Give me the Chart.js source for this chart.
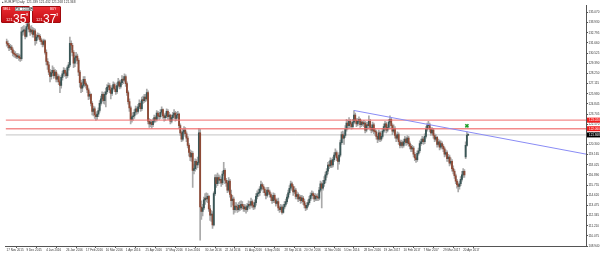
<!DOCTYPE html>
<html><head><meta charset="utf-8">
<script src="https://cdn.jsdelivr.net/npm/chart.js@4.4.1/dist/chart.umd.min.js"></script>
<style>
html,body{margin:0;padding:0;background:#fff;overflow:hidden}
#wrap{position:relative;width:600px;height:253px}
#c{position:absolute;left:0;top:0}
.t{position:absolute;white-space:nowrap;font-family:'Liberation Sans',Arial,sans-serif;transform-origin:0 0;line-height:1}
.box{position:absolute;box-sizing:border-box}
.red{background:linear-gradient(#ea2a30,#c30d13);border:1px solid #a10a0e;border-radius:1px}
</style></head>
<body><div id="wrap">
<canvas id="c" width="600" height="253"></canvas>
<div class="t" style="left:2px;top:0.5px;font-size:8px;transform:scale(0.4);color:#333">▴ EURJPY,Daily&nbsp; 121.339 121.432 121.268 121.368</div>
<div class="box red" style="left:1px;top:6px;width:29px;height:17px"></div>
<div class="box red" style="left:32px;top:6px;width:29px;height:17px"></div>
<div class="box" style="left:15px;top:6.5px;width:4px;height:4.5px;background:#ddd;border:0.5px solid #999"></div>
<div class="box" style="left:19px;top:6.5px;width:11px;height:4.5px;background:#fff;border:0.5px solid #999"></div>
<div class="box" style="left:30px;top:6.5px;width:3px;height:4.5px;background:#ddd;border:0.5px solid #999"></div>
<div class="t" style="left:16px;top:7.3px;font-size:8px;transform:scale(0.35);color:#333">▾</div>
<div class="t" style="left:31px;top:7.3px;font-size:8px;transform:scale(0.35);color:#333">▴</div>
<div class="t" style="left:22px;top:7.6px;font-size:8px;transform:scale(0.38);color:#222">10.00</div>
<div class="t" style="left:3px;top:7.5px;font-size:8px;transform:scale(0.38);color:#fff">SELL</div>
<div class="t" style="left:50px;top:7.5px;font-size:8px;transform:scale(0.38);color:#fff">BUY</div>
<div class="t" style="left:6px;top:17.8px;font-size:10px;transform:scale(0.4);color:#fff">121</div>
<div class="t" style="left:13px;top:13px;font-size:12px;color:#fff">35</div>
<div class="t" style="left:26.3px;top:13.2px;font-size:8px;transform:scale(0.5);color:#fff">8</div>
<div class="t" style="left:36px;top:17.8px;font-size:10px;transform:scale(0.4);color:#fff">121</div>
<div class="t" style="left:43px;top:13px;font-size:12px;color:#fff">37</div>
<div class="t" style="left:56.3px;top:13.2px;font-size:8px;transform:scale(0.5);color:#fff">3</div>
</div>
<script>
const tickLabels = ["17 Nov 2015","9 Dec 2015","4 Jan 2016","26 Jan 2016","17 Feb 2016","10 Mar 2016","1 Apr 2016","25 Apr 2016","17 May 2016","8 Jun 2016","30 Jun 2016","22 Jul 2016","15 Aug 2016","6 Sep 2016","28 Sep 2016","20 Oct 2016","11 Nov 2016","5 Dec 2016","28 Dec 2016","19 Jan 2017","10 Feb 2017","7 Mar 2017","29 Mar 2017","20 Apr 2017"];
const barsPerLabel = 16;
const priceTicks = [135.070,133.930,132.795,131.660,130.525,129.390,128.250,127.115,125.980,124.845,123.705,122.570,121.435,120.300,119.165,118.025,116.890,115.755,114.620,113.475,112.345,111.210,110.075,108.940];

const opens = [
131.8,131.6,131.4,131.1,131.2,130.9,130.5,130.4,130.3,130.1,130.2,130.0,129.9,132.9,133.0,133.1,
132.4,133.5,133.8,133.2,132.9,133.1,132.6,133.0,131.9,132.3,132.5,132.4,132.0,131.8,131.5,131.9,
130.6,129.6,129.2,128.4,127.9,128.3,128.6,128.0,128.4,127.6,127.9,127.3,126.9,127.8,128.2,128.6,
128.3,128.0,128.9,129.2,131.6,131.4,130.6,129.4,130.0,130.2,129.7,128.4,127.2,126.6,126.9,127.6,
127.1,126.9,126.4,125.7,125.9,124.9,124.0,124.3,123.6,123.4,123.7,124.1,124.9,125.4,125.9,125.2,
125.9,126.2,126.7,126.9,126.4,126.0,126.6,127.0,126.5,126.2,126.9,127.3,126.8,127.2,127.6,127.5,
127.9,127.1,126.1,125.1,124.4,123.1,123.4,123.5,123.9,124.3,124.0,124.5,124.9,124.3,125.3,125.2,
125.6,125.4,126.1,122.9,122.6,122.8,122.5,122.9,123.3,123.1,123.8,123.5,123.4,123.9,124.2,123.5,
123.3,123.5,124.0,123.4,123.6,122.9,123.3,123.6,123.8,123.2,123.6,123.7,122.4,121.6,120.9,121.7,
121.9,121.5,121.0,120.2,119.4,118.9,119.3,117.4,117.6,118.4,118.0,118.3,121.6,113.3,112.8,113.2,
114.1,114.3,114.2,114.5,113.1,112.4,112.5,111.3,114.8,116.6,115.9,116.6,116.3,116.4,116.0,117.0,
117.4,116.3,116.0,115.2,116.2,114.7,114.0,114.2,113.0,113.4,113.3,113.0,113.5,113.2,113.6,113.4,
113.1,113.3,113.0,113.4,113.6,113.5,113.9,113.5,113.3,113.8,114.5,114.8,114.9,115.3,115.8,115.6,
115.3,114.9,114.6,115.2,115.0,114.7,114.4,114.0,114.6,114.1,113.7,113.9,113.2,113.0,113.3,112.7,
113.3,113.6,113.9,114.4,114.9,115.4,115.9,115.6,115.0,115.2,114.5,114.7,114.2,114.4,114.0,114.3,
113.9,113.5,113.2,113.5,113.8,114.2,114.6,114.8,114.6,114.2,114.5,114.4,114.3,115.2,115.9,115.4,
115.9,116.3,116.9,117.3,118.0,117.9,118.5,118.0,118.6,119.1,119.4,118.8,118.4,119.1,120.5,121.4,
121.0,121.3,122.0,122.7,122.4,122.9,122.6,122.3,122.8,123.6,123.0,122.6,122.9,123.1,122.5,122.8,
122.6,122.7,121.9,122.5,122.4,122.9,122.2,121.9,122.5,121.8,121.7,121.2,120.9,121.6,120.9,121.2,
121.8,122.3,122.6,121.9,122.2,122.8,123.1,122.4,121.8,122.1,121.3,121.0,121.4,120.6,120.2,120.5,
120.2,120.6,120.9,120.5,121.0,120.4,120.1,119.8,119.9,119.2,118.8,118.6,119.3,119.6,120.4,120.6,
120.9,120.6,121.2,122.0,122.4,122.5,122.0,121.6,121.9,121.3,120.9,121.1,120.3,120.6,120.0,120.4,
120.1,119.8,119.2,119.4,118.7,118.9,118.2,118.4,117.6,117.3,116.8,116.2,115.8,115.6,115.9,116.4,
116.9,117.3,118.9,120.2,121.34];

const highs = [
132.1,131.9,131.6,131.5,131.4,131.1,130.8,130.7,130.5,130.5,130.4,130.3,133.4,133.5,133.6,133.3,
133.8,134.3,134.0,133.5,133.6,133.4,133.3,133.2,132.6,132.8,132.7,132.6,132.2,132.0,132.1,132.0,
130.9,129.9,129.5,128.7,128.6,129.1,128.9,128.7,128.6,128.2,128.1,127.5,128.0,128.5,128.9,128.8,
128.5,129.1,129.5,132.3,131.9,131.6,130.8,130.3,130.6,130.4,129.9,128.6,127.5,127.3,127.9,127.9,
127.3,127.0,126.6,126.2,126.0,125.1,124.6,124.5,123.9,124.0,124.4,125.2,125.7,126.2,126.1,126.2,
126.6,127.0,127.2,127.1,126.7,126.9,127.3,127.2,126.8,127.2,127.7,127.5,127.5,128.0,127.9,128.2,
128.1,127.3,126.3,125.4,124.6,123.8,123.9,124.2,124.6,124.5,124.8,125.3,125.1,125.6,125.7,125.9,
125.9,126.5,126.3,123.2,123.1,123.0,123.2,123.6,123.5,124.1,124.0,123.8,124.2,124.5,124.3,123.7,
123.8,124.3,124.2,123.9,123.7,123.6,123.9,124.2,124.0,123.9,124.0,123.8,122.6,121.8,122.0,122.3,
122.2,121.7,121.2,120.4,119.7,119.6,119.5,118.1,118.7,118.6,118.9,122.1,122.0,114.0,113.6,114.4,
114.8,114.9,114.8,114.6,113.5,112.9,112.8,115.0,116.9,116.9,117.1,116.9,116.8,116.6,117.3,118.3,
117.6,116.5,116.3,116.6,116.4,115.2,114.6,114.4,113.8,113.8,113.6,113.8,113.9,114.0,113.9,113.6,
113.6,113.5,113.7,114.0,113.9,114.3,114.1,113.8,114.1,114.8,115.1,115.3,115.6,116.2,116.0,115.8,
115.5,115.1,115.5,115.5,115.2,114.9,114.6,114.9,114.8,114.3,114.2,114.3,113.4,113.6,113.5,113.6,
113.9,114.2,114.7,115.2,115.7,116.2,116.1,115.8,115.6,115.4,115.0,114.9,114.7,114.6,114.6,114.5,
114.2,113.7,113.8,114.1,114.5,114.9,115.1,115.0,114.8,114.8,114.7,114.8,115.5,116.2,116.1,116.3,
116.7,117.2,117.6,118.3,118.4,118.8,118.7,118.9,119.4,119.8,119.6,119.0,119.4,120.8,121.7,121.8,
121.6,122.4,123.1,123.0,123.3,123.1,122.8,123.1,124.1,123.8,123.2,123.2,123.4,123.2,123.0,122.9,
123.0,122.9,122.8,122.8,123.5,123.1,122.5,122.8,122.7,122.1,121.9,121.4,121.9,121.8,121.5,122.1,
122.6,122.9,122.8,122.5,123.1,123.5,123.3,122.6,122.5,122.3,121.5,121.7,121.6,120.8,120.8,120.7,
120.9,121.2,121.1,121.3,121.2,120.6,120.3,120.2,120.1,119.4,119.0,119.6,119.9,120.7,120.9,121.2,
121.1,121.5,122.3,122.7,122.9,122.7,122.2,122.2,122.1,121.5,121.4,121.2,120.9,120.8,120.7,120.6,
120.3,120.0,119.7,119.6,119.2,119.1,118.8,118.6,117.9,117.5,117.0,116.4,116.0,116.2,116.7,117.3,
117.6,117.5,120.6,121.7,121.43];

const lows = [
131.3,131.1,130.8,130.9,130.6,130.2,130.1,130.0,129.9,129.9,129.7,129.6,129.7,132.5,132.6,132.1,
132.3,133.2,132.9,132.5,132.7,132.3,132.3,131.4,131.6,132.0,132.1,131.8,131.5,131.2,131.3,130.4,
129.2,128.7,128.1,127.3,127.6,128.0,127.7,127.8,127.3,127.3,127.0,126.1,126.6,127.5,128.0,127.9,
127.7,127.8,128.6,129.0,130.9,130.2,128.9,129.0,129.6,129.3,128.0,126.7,126.1,126.2,126.7,126.8,
126.6,126.1,125.3,125.4,124.6,123.6,123.5,123.2,123.0,123.1,123.4,123.9,124.7,125.1,124.9,124.8,
124.5,126.0,126.4,126.1,125.4,125.8,126.4,126.2,125.9,126.0,126.7,126.5,126.6,127.0,127.1,127.3,
126.8,125.8,124.8,124.0,122.6,122.8,123.0,123.2,123.6,123.7,123.8,124.3,124.0,124.1,124.9,125.0,
125.1,125.2,122.6,122.2,122.3,122.1,122.3,122.7,122.8,122.9,123.2,123.1,123.2,123.7,123.2,122.9,
123.0,123.3,123.1,123.1,122.6,122.7,123.1,123.4,122.9,123.0,123.3,122.1,121.3,120.6,120.7,121.4,
121.2,120.6,119.9,119.0,118.5,118.4,115.5,117.0,117.3,117.5,117.7,118.1,109.6,111.9,112.3,113.0,
113.6,113.9,113.8,112.8,111.8,111.7,110.9,111.2,114.6,115.5,115.7,116.0,115.9,115.6,115.8,116.8,
115.9,115.6,114.9,115.0,114.4,113.3,113.5,112.5,112.7,112.9,112.7,112.8,112.9,113.0,113.1,112.8,
112.8,112.6,112.8,113.2,113.1,113.3,113.2,113.0,113.1,113.5,114.2,114.5,114.6,115.1,115.3,114.9,
114.6,114.2,114.4,114.7,114.4,114.0,113.7,113.8,113.8,113.4,113.5,112.9,112.7,112.8,112.5,112.6,
113.1,113.4,113.7,114.2,114.7,115.2,115.2,114.6,114.8,114.2,114.2,113.9,114.0,113.7,113.8,113.6,
113.2,112.9,113.0,113.3,113.6,114.0,114.4,114.2,113.9,114.0,114.0,114.0,114.1,115.0,113.2,115.2,
115.6,116.0,116.6,117.0,117.6,117.7,117.7,117.8,118.4,118.9,118.5,117.5,118.1,118.9,120.3,120.5,
120.3,121.1,121.8,122.0,122.1,122.2,122.0,122.1,122.6,122.7,122.3,122.4,122.7,122.2,122.3,122.4,
122.3,121.6,121.7,122.0,122.1,121.9,121.6,121.7,121.5,121.3,120.9,120.5,120.7,120.6,120.7,121.0,
121.6,122.0,121.6,121.7,122.0,122.6,122.1,121.4,121.6,121.0,120.6,120.8,120.3,119.9,120.0,119.9,
120.0,120.4,120.2,120.3,120.1,119.8,119.5,119.5,118.9,118.5,118.3,118.4,119.1,119.4,120.2,120.4,
120.3,120.4,121.0,121.8,122.1,121.7,121.3,121.4,121.0,120.6,120.7,120.0,120.1,119.7,119.8,119.8,
119.5,118.9,119.0,118.4,118.4,117.9,118.0,117.3,117.0,116.5,115.9,115.4,115.0,115.3,115.7,116.2,
116.6,116.6,118.7,120.1,121.27];

const closes = [
131.6,131.4,131.1,131.2,130.9,130.5,130.4,130.3,130.1,130.2,130.0,129.9,132.9,133.0,133.1,132.4,
133.5,133.8,133.2,132.9,133.1,132.6,133.0,131.9,132.3,132.5,132.4,132.0,131.8,131.5,131.9,130.6,
129.6,129.2,128.4,127.9,128.3,128.6,128.0,128.4,127.6,127.9,127.3,126.9,127.8,128.2,128.6,128.3,
128.0,128.9,129.2,131.6,131.4,130.6,129.4,130.0,130.2,129.7,128.4,127.2,126.6,126.9,127.6,127.1,
126.9,126.4,125.7,125.9,124.9,124.0,124.3,123.6,123.4,123.7,124.1,124.9,125.4,125.9,125.2,125.9,
126.2,126.7,126.9,126.4,126.0,126.6,127.0,126.5,126.2,126.9,127.3,126.8,127.2,127.6,127.5,127.9,
127.1,126.1,125.1,124.4,123.1,123.4,123.5,123.9,124.3,124.0,124.5,124.9,124.3,125.3,125.2,125.6,
125.4,126.1,122.9,122.6,122.8,122.5,122.9,123.3,123.1,123.8,123.5,123.4,123.9,124.2,123.5,123.3,
123.5,124.0,123.4,123.6,122.9,123.3,123.6,123.8,123.2,123.6,123.7,122.4,121.6,120.9,121.7,121.9,
121.5,121.0,120.2,119.4,118.9,119.3,117.4,117.6,118.4,118.0,118.3,121.6,113.3,112.8,113.2,114.1,
114.3,114.2,114.5,113.1,112.4,112.5,111.3,114.8,116.6,115.9,116.6,116.3,116.4,116.0,117.0,117.4,
116.3,116.0,115.2,116.2,114.7,114.0,114.2,113.0,113.4,113.3,113.0,113.5,113.2,113.6,113.4,113.1,
113.3,113.0,113.4,113.6,113.5,113.9,113.5,113.3,113.8,114.5,114.8,114.9,115.3,115.8,115.6,115.3,
114.9,114.6,115.2,115.0,114.7,114.4,114.0,114.6,114.1,113.7,113.9,113.2,113.0,113.3,112.7,113.3,
113.6,113.9,114.4,114.9,115.4,115.9,115.6,115.0,115.2,114.5,114.7,114.2,114.4,114.0,114.3,113.9,
113.5,113.2,113.5,113.8,114.2,114.6,114.8,114.6,114.2,114.5,114.4,114.3,115.2,115.9,115.4,115.9,
116.3,116.9,117.3,118.0,117.9,118.5,118.0,118.6,119.1,119.4,118.8,118.4,119.1,120.5,121.4,121.0,
121.3,122.0,122.7,122.4,122.9,122.6,122.3,122.8,123.6,123.0,122.6,122.9,123.1,122.5,122.8,122.6,
122.7,121.9,122.5,122.4,122.9,122.2,121.9,122.5,121.8,121.7,121.2,120.9,121.6,120.9,121.2,121.8,
122.3,122.6,121.9,122.2,122.8,123.1,122.4,121.8,122.1,121.3,121.0,121.4,120.6,120.2,120.5,120.2,
120.6,120.9,120.5,121.0,120.4,120.1,119.8,119.9,119.2,118.8,118.6,119.3,119.6,120.4,120.6,120.9,
120.6,121.2,122.0,122.4,122.5,122.0,121.6,121.9,121.3,120.9,121.1,120.3,120.6,120.0,120.4,120.1,
119.8,119.2,119.4,118.7,118.9,118.2,118.4,117.6,117.3,116.8,116.2,115.8,115.6,115.9,116.4,116.9,
117.3,116.9,120.2,121.34,121.37];

const levelPrices = [123.020, 122.060];
const bidPrice = 121.368;
const trendIdx = [280, 467];
const trendPrice = [124.10, 119.22];
const markerIdx = 371;
const markerPrice = 122.39;

const X_MIN = -0.8, X_MAX = 467;
const Y_MIN = 108.94, Y_MAX = 135.835;

Chart.defaults.font.family = "'Liberation Sans', Arial, sans-serif";

const wickData = closes.map((c, i) => ({x: i, y: [lows[i], highs[i]]}));
const bodyData = closes.map((c, i) => ({x: i, y: [opens[i], c]}));
const bodyColors = closes.map((c, i) => c >= opens[i] ? '#3a5656' : '#8e4a36');

const levelLabels = {
  id: 'levelLabels',
  afterDraw(chart) {
    const ctx = chart.ctx, ys = chart.scales.y, ca = chart.chartArea;
    const items = levelPrices.map(p => ({p, bg: '#f21d1d'})).concat([{p: bidPrice, bg: '#000'}]);
    ctx.save();
    items.forEach(it => {
      const y = ys.getPixelForValue(it.p);
      ctx.fillStyle = it.bg;
      ctx.fillRect(ca.right + 1, y - 2.5, 600 - ca.right - 1, 5);
      ctx.fillStyle = '#fff';
      ctx.font = "3px 'Liberation Sans', Arial, sans-serif";
      ctx.textBaseline = 'middle';
      ctx.textAlign = 'left';
      ctx.fillText(it.p.toFixed(3), ca.right + 3, y);
    });
    ctx.restore();
  }
};

new Chart(document.getElementById('c'), {
  type: 'bar',
  data: {
    datasets: [
      {type: 'scatter', data: [{x: markerIdx, y: markerPrice}], pointStyle: 'crossRot', pointRadius: 2.2,
       borderColor: '#1f9e2a', backgroundColor: '#1f9e2a', borderWidth: 1.6, order: 0},
      {type: 'line', data: trendIdx.map((x, k) => ({x, y: trendPrice[k]})), borderColor: '#8a8cf5',
       borderWidth: 1, pointRadius: 0, order: 1},
      {type: 'line', data: [{x: X_MIN, y: levelPrices[0]}, {x: X_MAX, y: levelPrices[0]}], borderColor: 'rgba(240,110,110,0.8)',
       borderWidth: 1.4, pointRadius: 0, order: 2},
      {type: 'line', data: [{x: X_MIN, y: levelPrices[1]}, {x: X_MAX, y: levelPrices[1]}], borderColor: 'rgba(240,110,110,0.8)',
       borderWidth: 1.4, pointRadius: 0, order: 2},
      {type: 'bar', data: bodyData, backgroundColor: bodyColors, barThickness: 1.2, minBarLength: 1, grouped: false, order: 3},
      {type: 'bar', data: wickData, backgroundColor: '#a9a9a9', barThickness: 1, grouped: false, order: 4},
      {type: 'line', data: [{x: X_MIN, y: bidPrice}, {x: X_MAX, y: bidPrice}], borderColor: '#c4c4c4',
       borderWidth: 1, pointRadius: 0, order: 5}
    ]
  },
  options: {
    responsive: false,
    animation: false,
    devicePixelRatio: 1,
    layout: {padding: 0},
    plugins: {legend: {display: false}, tooltip: {enabled: false}},
    scales: {
      x: {
        type: 'linear', position: 'bottom', min: X_MIN, max: X_MAX, offset: false,
        grid: {drawOnChartArea: false, tickLength: 2, color: '#555'},
        border: {display: true, color: '#555', width: 1},
        afterBuildTicks(scale) { scale.ticks = tickLabels.map((t, k) => ({value: k * barsPerLabel})); },
        afterFit(scale) { scale.height = 7; scale.paddingLeft = 0; scale.paddingRight = 0; },
        ticks: {
          autoSkip: false, maxRotation: 0, minRotation: 0, align: 'start', padding: 0,
          color: '#333', font: {size: 3},
          callback: (v) => tickLabels[Math.round(v / barsPerLabel)]
        }
      },
      y: {
        type: 'linear', position: 'right', min: Y_MIN, max: Y_MAX,
        grid: {drawOnChartArea: false, tickLength: 2, color: '#555'},
        border: {display: true, color: '#555', width: 1},
        afterBuildTicks(scale) { scale.ticks = priceTicks.map(v => ({value: v})); },
        afterFit(scale) { scale.width = 14; scale.paddingTop = 0; scale.paddingBottom = 0; },
        ticks: {
          autoSkip: false, padding: 0.5, color: '#333', font: {size: 3},
          callback: (v) => Number(v).toFixed(3)
        }
      }
    }
  },
  plugins: [levelLabels]
});
</script>
</body></html>
